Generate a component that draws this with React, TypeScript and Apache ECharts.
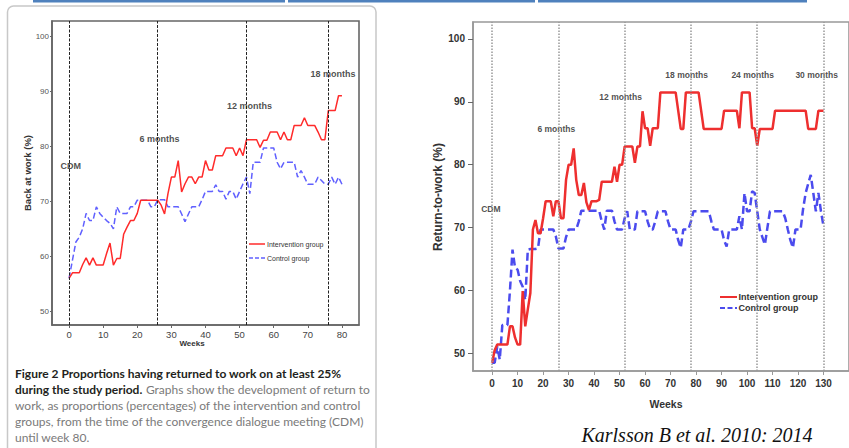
import React, { useEffect, useRef } from "react";
import * as echarts from "echarts";

// ---------- Left chart (weeks 0..80) ----------
const leftIntervention = [
  56, 57, 57, 57, 58.5, 59.7, 58.4, 59.7, 58.4, 58.4,
  58.4, 60.5, 62.4, 58.4, 59.6, 59.6, 64, 65.3, 66.5, 66.5,
  67.8, 70.2, 70.2, 70.2, 70.2, 70.2, 70.2, 69.3, 67.7, 71.4,
  74.4, 74.4, 77.4, 71.7, 73.2, 74.4, 74.4, 73.2, 74.4, 74.4,
  77.4, 75.7, 75.7, 78.3, 78.3, 78.3, 79.7, 79.7, 79.7, 78.3,
  79.7, 78.3, 81.2, 81.2, 81.2, 81.2, 79.8, 81.1, 81.1, 82.6,
  82.6, 82.6, 81.2, 82.6, 81.2, 81.2, 83.8, 83.8, 83.8, 85.2,
  83.8, 83.8, 83.8, 82.6, 81.2, 81.2, 86.5, 86.5, 86.5, 89.2,
  89.2,
];
const leftControl = [
  56, 59.3, 62.6, 63.5, 65, 67.8, 66.5, 66.5, 69, 67.8,
  67.1, 66.5, 66, 65, 69, 67.8, 67.8, 67.8, 69, 69,
  70.2, 70.2, 70.2, 70.2, 69, 69, 70.3, 70.3, 70.3, 69,
  69, 69, 69, 67.7, 66.3, 67.7, 69, 69, 69, 70.3,
  71.8, 71.8, 71.8, 73, 71.8, 71.8, 70.4, 71.8, 71.8, 70.4,
  71.8, 73.2, 74.4, 71.4, 77.1, 77.1, 77.1, 79.7, 79.7, 79.7,
  79.7, 77.1, 75.9, 77.1, 77.1, 77.1, 77.1, 74.4, 75.6, 74.4,
  73.1, 73.1, 73.1, 74.4, 73.8, 73.1, 73.1, 74.4, 73.1, 74.4,
  73.1,
];
const leftXTicks = [0, 10, 20, 30, 40, 50, 60, 70, 80];
const leftYTicks = [50, 60, 70, 80, 90, 100];
const leftMilestoneWeeks = [0, 26, 52, 76];
const leftMarkerNames = ["CDM", "6 months", "12 months", "18 months"];
const leftMarkerWeeks = [0.5, 26.5, 52.9, 77.4];
const leftMarkerValues = [76.5, 81.3, 87.3, 93.1];

// ---------- Right chart (weeks 0..130) ----------
const rightIntervention = [
  48.5, 50.5, 51.4, 51.4, 51.4, 51.4, 51.4, 54.3, 54.3, 52.5,
  51.4, 51.4, 59.9, 54.3, 57, 59.6, 69.7, 71.2, 69.1, 69.1,
  71.5, 74.2, 74.2, 74.2, 71.8, 74.2, 74.2, 71.5, 71.5, 77.6,
  80, 80, 82.6, 77.6, 75.2, 75.2, 77.1, 74, 72.8, 74.2,
  74.2, 74.2, 74.4, 77.3, 77.3, 77.3, 77.3, 77.3, 79.7, 77.3,
  80, 80, 82.9, 82.9, 82.9, 82.9, 80.3, 82.9, 82.9, 88.5,
  85.8, 85.8, 83, 85.8, 85.8, 85.8, 91.5, 91.5, 91.5, 91.5,
  91.5, 91.5, 91.5, 88.6, 85.7, 85.7, 91.5, 91.5, 91.5, 91.5,
  91.5, 91.5, 88.6, 85.7, 85.7, 85.7, 85.7, 85.7, 85.7, 85.7,
  85.7, 88.6, 88.6, 88.6, 88.6, 88.6, 88.6, 85.8, 91.5, 91.5,
  91.5, 91.5, 85.8, 85.8, 83, 85.7, 85.7, 85.7, 85.7, 85.7,
  85.7, 88.6, 88.6, 88.6, 88.6, 88.6, 88.6, 88.6, 88.6, 88.6,
  88.6, 88.6, 88.6, 88.6, 85.7, 85.7, 85.7, 85.7, 88.6, 88.6,
  88.6,
];
const rightControl = [
  48.5, 48.5, 51.1, 49, 54.5, 54.5, 54.5, 60, 66.5, 63.6,
  63.3, 61.5, 60.6, 58.5, 66.5, 66.6, 66.6, 66.6, 66.7, 69.7,
  69.7, 69.7, 69.7, 69.7, 69.7, 68.6, 66.7, 66.7, 66.7, 68.5,
  69.7, 69.7, 69.7, 69.7, 71, 72.7, 72.7, 72.7, 72.7, 72.7,
  72.7, 72.7, 72.7, 71, 69.7, 72.7, 72.7, 72.7, 71, 69.7,
  69.7, 69.7, 71.5, 72.6, 69.7, 69.7, 69.7, 72.6, 72.6, 72.6,
  72.6, 71, 69.7, 69.7, 71, 72.6, 72.6, 72.6, 72.6, 71,
  69.7, 69.7, 69.7, 68, 66.8, 69.7, 69.7, 69.7, 71, 72.6,
  72.6, 72.6, 72.6, 72.6, 72.6, 72.6, 71, 69.7, 69.7, 69.7,
  69.7, 68, 67, 69.7, 69.7, 69.7, 69.7, 71.8, 69.7, 75.5,
  72.6, 72.6, 75.8, 75.5, 72.6, 69.7, 68.5, 67.3, 70, 72.6,
  72.6, 72.6, 72.6, 72.6, 72.6, 71.5, 69.7, 68, 66.8, 69.7,
  69.7, 69.7, 73, 75.5, 77, 78.4, 75.5, 72.6, 75.5, 72.6,
  70.2,
];
const rightXTicks = [0, 10, 20, 30, 40, 50, 60, 70, 80, 90, 100, 110, 120, 130];
const rightYTicks = [50, 60, 70, 80, 90, 100];
const rightMilestoneWeeks = [0, 26, 52, 78, 104, 130];
const rightMarkerNames = ["CDM", "6 months", "12 months", "18 months", "24 months", "30 months"];
const rightMarkerWeeks = [-0.5, 25.2, 50.4, 76.3, 102.2, 127.3];
const rightMarkerValues = [72.9, 85.7, 90.7, 94.2, 94.2, 94.2];

const seriesNames = ["Intervention group", "Control group"];

const captionBold1 = "Figure 2 Proportions having returned to work on at least 25%";
const captionBold2 = "during the study period.";
const captionRest = [
  "Graphs show the development of return to",
  "work, as proportions (percentages) of the intervention and control",
  "groups, from the time of the convergence dialogue meeting (CDM)",
  "until week 80.",
];
const citation = "Karlsson B et al. 2010: 2014";

const toPoints = (arr: number[]) => arr.map((v, i) => [i, v]);

// Hand-drawn legend: line sample + label, one row per series
function legendRows(
  x: number, y: number, rowGap: number, lineLen: number, textGap: number,
  colors: string[], widths: number[], dashes: (number[] | null)[], textStyle: any,
) {
  const out: any[] = [];
  seriesNames.forEach((name, i) => {
    const yy = y + i * rowGap;
    out.push({
      type: "line", silent: true,
      shape: { x1: x, y1: yy, x2: x + lineLen, y2: yy },
      style: { stroke: colors[i], lineWidth: widths[i], lineDash: dashes[i] || undefined },
    });
    out.push({
      type: "text", silent: true, x: x + lineLen + textGap, y: yy,
      style: { text: name, align: "left", verticalAlign: "middle", ...textStyle },
    });
  });
  return out;
}

function leftOption(): any {
  const sans = "Liberation Sans, Arial, sans-serif";
  const capFont = "Lato, 'Open Sans', sans-serif";
  const red = "#ff2b2b";
  const blue = "#6060ff";
  return {
    animation: false,
    backgroundColor: "transparent",
    grid: {
      left: 52, top: 21, width: 307, height: 304,
      show: true, borderColor: "#666", borderWidth: 1.6, backgroundColor: "transparent",
    },
    xAxis: {
      type: "value", min: -5, max: 85,
      splitLine: { show: false },
      axisLine: { show: true, onZero: false, lineStyle: { color: "#666", width: 1.6 } },
      axisTick: { show: true, length: 3, customValues: leftXTicks, lineStyle: { color: "#666" } },
      axisLabel: { customValues: leftXTicks, margin: 4, fontSize: 9.5, color: "#444", fontFamily: sans },
    },
    yAxis: {
      type: "value", min: 47.5, max: 102.8,
      splitLine: { show: false },
      axisLine: { show: true, onZero: false, lineStyle: { color: "#666", width: 1.6 } },
      axisTick: { show: true, length: 2, customValues: leftYTicks, lineStyle: { color: "#666" } },
      axisLabel: { customValues: leftYTicks, margin: 3, fontSize: 8, color: "#555", fontFamily: sans },
    },
    legend: { show: false },
    series: [
      {
        name: seriesNames[0], type: "line", data: toPoints(leftIntervention),
        symbol: "none", showSymbol: false, z: 3,
        lineStyle: { color: red, width: 1.5 }, itemStyle: { color: red },
        markLine: {
          silent: true, symbol: "none", label: { show: false },
          lineStyle: { color: "#222", width: 1, type: [3, 1.5] },
          data: leftMilestoneWeeks.map((w) => ({ xAxis: w })),
        },
      },
      {
        name: seriesNames[1], type: "line", data: toPoints(leftControl),
        symbol: "none", showSymbol: false, z: 2,
        lineStyle: { color: blue, width: 1.5, type: [6, 3] }, itemStyle: { color: blue },
      },
      {
        name: "markers", type: "scatter", silent: true, symbolSize: 1,
        itemStyle: { color: "rgba(0,0,0,0)" },
        data: leftMarkerNames.map((n, i) => ({ name: n, value: [leftMarkerWeeks[i], leftMarkerValues[i]] })),
        label: {
          show: true, position: "inside", formatter: "{b}",
          fontSize: 9, fontWeight: "bold", color: "#222", fontFamily: sans,
        },
      },
    ],
    graphic: [
      { type: "rect", shape: { x: 33, y: 0, width: 252, height: 2.5 }, style: { fill: "#4f81bd" }, silent: true },
      { type: "rect", shape: { x: 288, y: 0, width: 247, height: 2.5 }, style: { fill: "#4f81bd" }, silent: true },
      { type: "rect", shape: { x: 538, y: 0, width: 269, height: 2.5 }, style: { fill: "#4f81bd" }, silent: true },
      {
        type: "rect", shape: { x: 7.5, y: 6, width: 368.5, height: 470, r: 6 },
        style: { fill: "none", stroke: "#c8c8c8", lineWidth: 1.5 }, silent: true,
      },
      ...legendRows(249, 244, 14, 16, 2, [red, blue], [1.5, 1.5], [null, [4, 2]],
        { fontSize: 7, fill: "#333", fontFamily: sans }),
      {
        type: "text", x: 27, y: 173, rotation: Math.PI / 2,
        style: {
          text: "Back at work (%)", fontSize: 9.5, fontWeight: "bold", fill: "#333",
          fontFamily: sans, align: "center", verticalAlign: "middle",
        },
      },
      {
        type: "text", x: 192, y: 343,
        style: {
          text: "Weeks", fontSize: 8, fontWeight: "bold", fill: "#333",
          fontFamily: sans, align: "center", verticalAlign: "middle",
        },
      },
      {
        type: "text", x: 15, y: 373,
        style: {
          text: captionBold1, fontSize: 12, fontWeight: "bold", fill: "#231f20",
          fontFamily: capFont, align: "left", verticalAlign: "middle",
        },
      },
      {
        type: "text", x: 15, y: 389,
        style: {
          text: "{b|" + captionBold2 + "} {n|" + captionRest[0] + "}",
          align: "left", verticalAlign: "middle",
          rich: {
            b: { fontSize: 12, fontWeight: "bold", fill: "#231f20", fontFamily: capFont },
            n: { fontSize: 12, fontWeight: "normal", fill: "#7a7a7a", fontFamily: capFont },
          },
        },
      },
      ...captionRest.slice(1).map((t, i) => ({
        type: "text", x: 15, y: 405 + i * 16,
        style: {
          text: t, fontSize: 12, fill: "#7a7a7a", fontFamily: capFont,
          align: "left", verticalAlign: "middle",
        },
      })),
    ],
  };
}

function rightOption(): any {
  const sans = "Liberation Sans, Arial, sans-serif";
  const red = "#ee2f2f";
  const blue = "#4b4bee";
  return {
    animation: false,
    backgroundColor: "transparent",
    grid: {
      left: 473, top: 22, width: 391, height: 349,
      show: true, borderColor: "#999", borderWidth: 1.6, backgroundColor: "transparent",
    },
    xAxis: {
      type: "value", min: -7.5, max: 140,
      splitLine: { show: false },
      axisLine: { show: true, onZero: false, lineStyle: { color: "#999", width: 1.6 } },
      axisTick: { show: true, length: 4, customValues: rightXTicks, lineStyle: { color: "#999" } },
      axisLabel: {
        customValues: rightXTicks, margin: 7, fontSize: 10, fontWeight: "bold",
        color: "#333", fontFamily: sans,
      },
    },
    yAxis: {
      type: "value", min: 47.2, max: 102.7,
      splitLine: { show: false },
      axisLine: { show: true, onZero: false, lineStyle: { color: "#999", width: 1.6 } },
      axisTick: { show: true, length: 5, customValues: rightYTicks, lineStyle: { color: "#666" } },
      axisLabel: {
        customValues: rightYTicks, margin: 8, fontSize: 10, fontWeight: "bold",
        color: "#333", fontFamily: sans,
      },
    },
    legend: { show: false },
    series: [
      {
        name: seriesNames[0], type: "line", data: toPoints(rightIntervention),
        symbol: "none", showSymbol: false, z: 3,
        lineStyle: { color: red, width: 2.5 }, itemStyle: { color: red },
        markLine: {
          silent: true, symbol: "none", label: { show: false },
          lineStyle: { color: "#999", width: 1.5, type: [1.5, 1.5] },
          data: rightMilestoneWeeks.map((w) => ({ xAxis: w })),
        },
      },
      {
        name: seriesNames[1], type: "line", data: toPoints(rightControl),
        symbol: "none", showSymbol: false, z: 2,
        lineStyle: { color: blue, width: 2.5, type: [8, 4] }, itemStyle: { color: blue },
      },
      {
        name: "markers", type: "scatter", silent: true, symbolSize: 1,
        itemStyle: { color: "rgba(0,0,0,0)" },
        data: rightMarkerNames.map((n, i) => ({ name: n, value: [rightMarkerWeeks[i], rightMarkerValues[i]] })),
        label: {
          show: true, position: "inside", formatter: "{b}",
          fontSize: 8.5, fontWeight: "bold", color: "#222", fontFamily: sans,
        },
      },
    ],
    graphic: [
      ...legendRows(720, 297, 11, 17, 1.5, [red, blue], [2, 2], [null, [5, 2.5]],
        { fontSize: 9, fontWeight: "bold", fill: "#333", fontFamily: sans }),
      {
        type: "text", x: 438, y: 197, rotation: Math.PI / 2,
        style: {
          text: "Return-to-work (%)", fontSize: 12, fontWeight: "bold", fill: "#333",
          fontFamily: sans, align: "center", verticalAlign: "middle",
        },
      },
      {
        type: "text", x: 666, y: 404,
        style: {
          text: "Weeks", fontSize: 10.5, fontWeight: "bold", fill: "#333",
          fontFamily: sans, align: "center", verticalAlign: "middle",
        },
      },
      {
        type: "text", x: 697, y: 435,
        style: {
          text: citation, fontSize: 20, fontStyle: "italic", fill: "#111",
          fontFamily: "'Liberation Serif', 'DejaVu Serif', serif",
          align: "center", verticalAlign: "middle",
        },
      },
    ],
  };
}

export default function App() {
  const leftRef = useRef<HTMLDivElement>(null);
  const rightRef = useRef<HTMLDivElement>(null);

  useEffect(() => {
    const l = echarts.init(leftRef.current!, undefined, { renderer: "svg" });
    const r = echarts.init(rightRef.current!, undefined, { renderer: "svg" });
    l.setOption(leftOption());
    r.setOption(rightOption());
    return () => {
      l.dispose();
      r.dispose();
    };
  }, []);

  const full: React.CSSProperties = { position: "absolute", left: 0, top: 0, width: 849, height: 448 };
  return (
    <div style={{ ...full, background: "#fff", overflow: "hidden" }}>
      <div ref={leftRef} style={full} />
      <div ref={rightRef} style={full} />
    </div>
  );
}
